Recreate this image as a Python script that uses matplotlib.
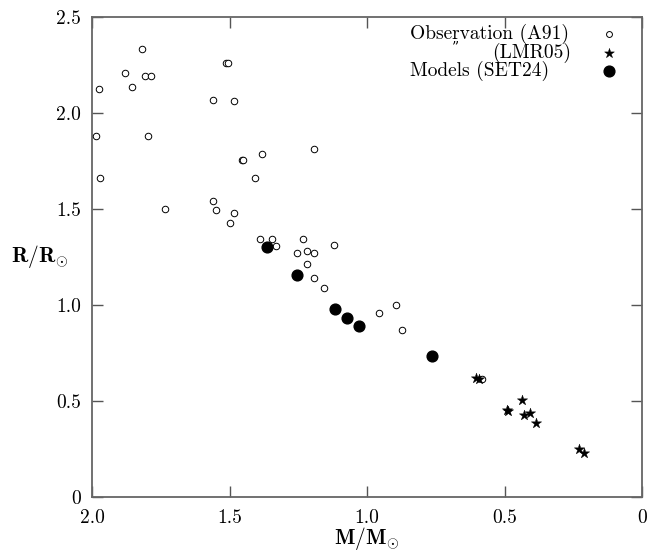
import matplotlib
matplotlib.use("Agg")
import matplotlib.pyplot as plt

plt.rcParams['font.family'] = ['cmr10', 'DejaVu Serif']
plt.rcParams['mathtext.fontset'] = 'cm'
plt.rcParams['axes.formatter.use_mathtext'] = True

# Observation (A91): mass, radius
obs_m = [1.975, 1.985, 1.970, 1.879, 1.856, 1.819, 1.808, 1.784, 1.796, 1.733,
         1.561, 1.513, 1.507, 1.485, 1.456, 1.450, 1.383, 1.407, 1.191, 1.561,
         1.550, 1.485, 1.500, 1.388, 1.347, 1.331, 1.234, 1.255, 1.217, 1.194,
         1.217, 1.120, 1.191, 1.155, 0.956, 0.896, 0.874, 0.582]
obs_r = [2.123, 1.880, 1.663, 2.207, 2.134, 2.335, 2.191, 2.191, 1.880, 1.500,
         2.069, 2.262, 2.262, 2.061, 1.757, 1.757, 1.786, 1.660, 1.813, 1.540,
         1.497, 1.478, 1.429, 1.345, 1.345, 1.309, 1.344, 1.272, 1.280, 1.272,
         1.214, 1.313, 1.139, 1.087, 0.958, 1.002, 0.870, 0.615]

# Observation (LMR05)
lmr_m = [0.604, 0.594, 0.435, 0.488, 0.492, 0.430, 0.406, 0.385, 0.228, 0.210]
lmr_r = [0.618, 0.616, 0.505, 0.450, 0.452, 0.429, 0.437, 0.387, 0.250, 0.227]

# Models (SET24)
mod_m = [1.364, 1.253, 1.116, 1.071, 1.028, 0.765]
mod_r = [1.304, 1.156, 0.981, 0.934, 0.892, 0.736]

xticks = [2.0, 1.5, 1.0, 0.5, 0.0]
xticklabels = ['2.0', '1.5', '1.0', '0.5', '0']
yticks = [0.0, 0.5, 1.0, 1.5, 2.0, 2.5]
yticklabels = ['0', '0.5', '1.0', '1.5', '2.0', '2.5']

fig = plt.figure(figsize=(6.48, 5.51), dpi=100)
ax = fig.add_axes([92/648, 54/551, 550/648, 480/551])

ax.scatter(obs_m, obs_r, s=22, facecolors='white', edgecolors='black', linewidths=0.7, zorder=3)
ax.scatter(lmr_m, lmr_r, s=60, marker='*', color='black', linewidths=0.3, zorder=4)
ax.scatter(mod_m, mod_r, s=60, color='black', zorder=5)

ax.set_xlim(2.0, 0.0)
ax.set_ylim(0.0, 2.5)
ax.set_xticks(xticks)
ax.set_xticklabels(xticklabels)
ax.set_yticks(yticks)
ax.set_yticklabels(yticklabels)
ax.tick_params(direction='in', length=8, width=1, color='#555555',
               top=True, right=True, labelsize=14)
ax.tick_params(axis='x', pad=9)
ax.tick_params(axis='y', pad=8)
for sp in ax.spines.values():
    sp.set_color('#666666')
    sp.set_linewidth(1.3)

ax.set_xlabel(r'$\mathbf{M/M}_{\odot}$', fontsize=15.5, labelpad=-2)
ax.set_ylabel(r'$\mathbf{R/R}_{\odot}$', fontsize=15.5, rotation=0, labelpad=12, va='center')

# legend drawn in axes fraction coordinates
def fx(px):
    return (px - 92) / 550
def fy(py):
    return (497 - py) / 480

tr = ax.transAxes
ax.text(fx(410), fy(34), 'Observation (A91)', fontsize=14, va='center', ha='left', transform=tr)
ax.text(fx(456), fy(48), '\u201d', fontsize=10, va='center', ha='center', transform=tr)
ax.text(fx(492), fy(53), '(LMR05)', fontsize=14, va='center', ha='left', transform=tr)
ax.text(fx(410), fy(71), 'Models (SET24)', fontsize=14, va='center', ha='left', transform=tr)
ax.scatter([fx(609)], [fy(34)], s=18, facecolors='white', edgecolors='black', linewidths=0.7,
           transform=tr, clip_on=False)
ax.scatter([fx(609)], [fy(52.5)], s=55, marker='*', color='black', linewidths=0.3,
           transform=tr, clip_on=False)
ax.scatter([fx(609)], [fy(71)], s=60, color='black', transform=tr, clip_on=False)

fig.savefig('out.png', dpi=100)
